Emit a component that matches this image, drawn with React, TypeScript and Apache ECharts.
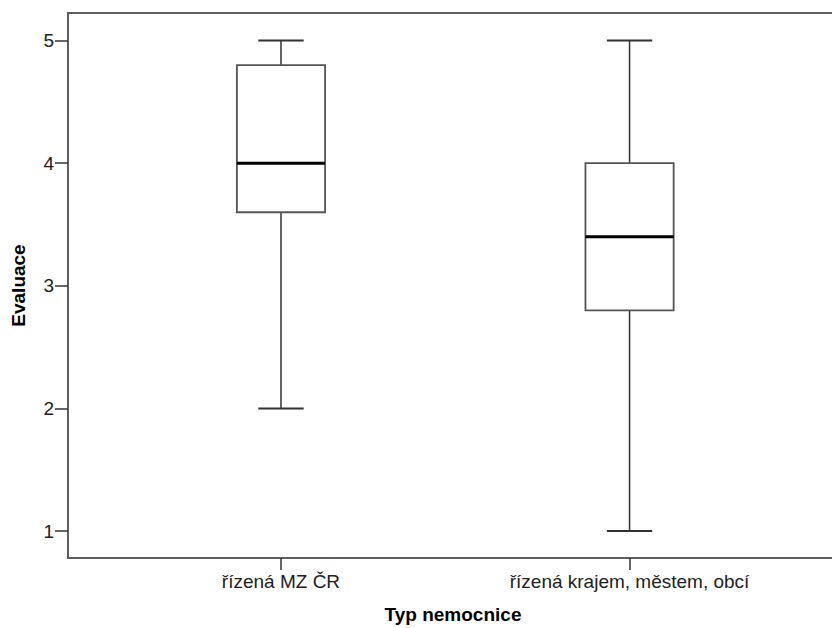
import React, { useEffect, useRef } from "react";
import * as echarts from "echarts";

const categories = ["řízená MZ ČR", "řízená krajem, městem, obcí"];
const positions = [1, 2];
const mins = [2, 1];
const q1s = [3.6, 2.8];
const medians = [4, 3.4];
const q3s = [4.8, 4];
const maxs = [5, 5];
const yTicks = [1, 2, 3, 4, 5];

const FONT = "'Liberation Sans', Arial, sans-serif";

export default function App() {
  const ref = useRef<HTMLDivElement>(null);
  useEffect(() => {
    if (!ref.current) return;
    const chart = echarts.init(ref.current, null, { renderer: "svg" });
    const data = positions.map((p, i) => [p, mins[i], q1s[i], medians[i], q3s[i], maxs[i]]);
    chart.setOption({
      animation: false,
      backgroundColor: "#ffffff",
      grid: {
        left: 68,
        right: -6,
        top: 13,
        bottom: 70,
        show: true,
        outerBoundsMode: "none",
        containLabel: false,
        borderColor: "#5f5f5f",
        borderWidth: 2,
        backgroundColor: "transparent",
      },
      xAxis: {
        type: "value",
        min: 0.389,
        max: 2.598,
        name: "Typ nemocnice",
        nameLocation: "middle",
        nameGap: 47,
        nameMoveOverlap: false,
        nameTextStyle: { fontFamily: FONT, fontWeight: "bold", fontSize: 19, color: "#000" },
        splitLine: { show: false },
        axisLine: { show: true, onZero: false, lineStyle: { color: "#5f5f5f", width: 2 } },
        axisTick: {
          show: true,
          length: 12,
          customValues: positions,
          lineStyle: { color: "#333", width: 1.5 },
        },
        axisLabel: {
          customValues: positions,
          margin: 14,
          fontFamily: FONT,
          fontSize: 19,
          color: "#222",
          formatter: (v: number) => categories[Math.round(v) - 1] ?? "",
        },
      },
      yAxis: {
        type: "value",
        min: 0.78,
        max: 5.225,
        name: "Evaluace",
        nameLocation: "middle",
        nameGap: 40,
        nameMoveOverlap: false,
        nameRotate: 90,
        nameTextStyle: { fontFamily: FONT, fontWeight: "bold", fontSize: 19, color: "#000" },
        splitLine: { show: false },
        axisLine: { show: true, lineStyle: { color: "#5f5f5f", width: 2 } },
        axisTick: {
          show: true,
          length: 13,
          customValues: yTicks,
          lineStyle: { color: "#333", width: 1.5 },
        },
        axisLabel: {
          customValues: yTicks,
          margin: 14,
          fontFamily: FONT,
          fontSize: 19,
          color: "#222",
        },
      },
      series: [
        {
          type: "custom",
          encode: { x: 0, y: [1, 2, 3, 4, 5] },
          data,
          renderItem: (params: any, api: any) => {
            const x = api.value(0);
            const pMin = api.coord([x, api.value(1)]);
            const pQ1 = api.coord([x, api.value(2)]);
            const pMed = api.coord([x, api.value(3)]);
            const pQ3 = api.coord([x, api.value(4)]);
            const pMax = api.coord([x, api.value(5)]);
            const boxW = api.size([0.253, 0])[0];
            const capW = api.size([0.13, 0])[0];
            const cx = pMed[0];
            const whisker = { stroke: "#333", lineWidth: 1.5 };
            return {
              type: "group",
              children: [
                { type: "line", shape: { x1: cx, y1: pMax[1], x2: cx, y2: pQ3[1] }, style: whisker },
                { type: "line", shape: { x1: cx, y1: pQ1[1], x2: cx, y2: pMin[1] }, style: whisker },
                { type: "line", shape: { x1: cx - capW / 2, y1: pMax[1], x2: cx + capW / 2, y2: pMax[1] }, style: { stroke: "#333", lineWidth: 2 } },
                { type: "line", shape: { x1: cx - capW / 2, y1: pMin[1], x2: cx + capW / 2, y2: pMin[1] }, style: { stroke: "#333", lineWidth: 2 } },
                {
                  type: "rect",
                  shape: { x: cx - boxW / 2, y: pQ3[1], width: boxW, height: pQ1[1] - pQ3[1] },
                  style: { fill: "#ffffff", stroke: "#555", lineWidth: 1.8 },
                },
                { type: "line", shape: { x1: cx - boxW / 2, y1: pMed[1], x2: cx + boxW / 2, y2: pMed[1] }, style: { stroke: "#000", lineWidth: 3 } },
              ],
            };
          },
        },
      ],
    });
    return () => chart.dispose();
  }, []);
  return <div ref={ref} style={{ position: "fixed", left: 0, top: 0, width: 832, height: 628 }} />;
}
